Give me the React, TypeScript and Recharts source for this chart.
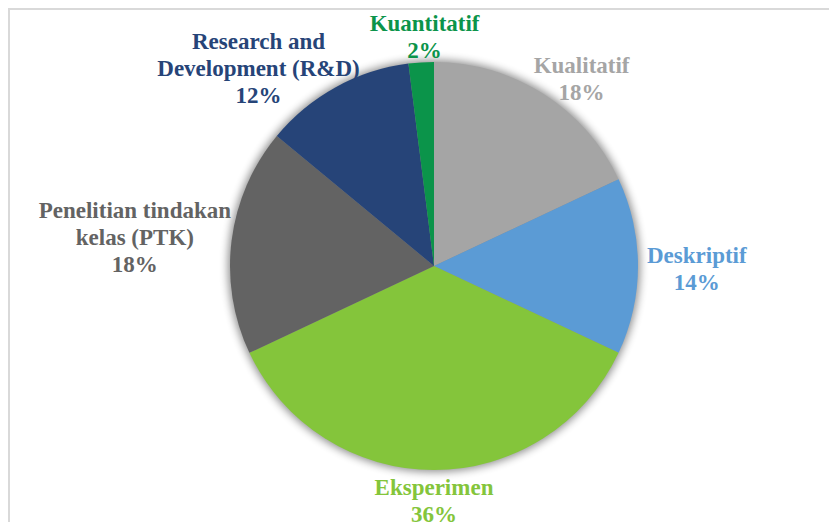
import React from 'react';
import { PieChart, Pie, Cell } from 'recharts';

const categories = [
    'Kualitatif',
    'Deskriptif',
    'Eksperimen',
    'Penelitian tindakan\nkelas (PTK)',
    'Research and\nDevelopment (R&D)',
    'Kuantitatif',
];
const shares = [18, 14, 36, 18, 12, 2];
const colors = ['#A5A5A5', '#5B9BD5', '#84C53B', '#636363', '#264478', '#0B944A'];

const data = categories.map((name, i) => ({ name, value: shares[i] }));

const FONT_FAMILY = '"Liberation Serif", "Times New Roman", serif';
const FONT_SIZE = 23;
const LINE_H = 27;
const RAD = Math.PI / 180;
// small hand corrections so the labels land where the original best-fit put them
const labelNudge: [number, number][] = [
    [15, 21],
    [14, 2],
    [0, 8],
    [-2, 9],
    [-39, 50],
    [5, -1],
];

let ctx: CanvasRenderingContext2D | null = null;
const measure = (t: string) => {
    if (!ctx) ctx = document.createElement('canvas').getContext('2d');
    if (!ctx) return t.length * 11;
    ctx.font = `bold ${FONT_SIZE}px ${FONT_FAMILY}`;
    return ctx.measureText(t).width;
};

const renderLabel = (props: any) => {
    const { cx, cy, midAngle, outerRadius, index, value } = props;
    const lines = [...categories[index].split('\n'), `${value}%`];
    const w = Math.max(...lines.map(measure));
    const h = lines.length * LINE_H;
    const dx = Math.cos(-midAngle * RAD);
    const dy = Math.sin(-midAngle * RAD);
    // push the text block out until its edge sits just off the rim
    const ext = (Math.abs(dx) * w) / 2 + (Math.abs(dy) * h) / 2;
    const d = outerRadius - 5 + ext;
    const [nx, ny] = labelNudge[index] || [0, 0];
    const x = cx + dx * d + nx;
    const y0 = cy + dy * d - h / 2 + LINE_H / 2 + ny;
    return (
        <text
            x={x}
            y={y0}
            fill={colors[index]}
            textAnchor="middle"
            dominantBaseline="central"
            fontFamily={FONT_FAMILY}
            fontSize={FONT_SIZE}
            fontWeight="bold"
        >
            {lines.map((l, k) => (
                <tspan key={k} x={x} dy={k === 0 ? 0 : LINE_H}>
                    {l}
                </tspan>
            ))}
        </text>
    );
};

const App: React.FC = () => {
    return (
        <div style={{ position: 'absolute', left: 0, top: 0, width: 829, height: 522, overflow: 'hidden', background: '#fff' }}>
            <div
                style={{
                    position: 'absolute',
                    left: 8,
                    top: 8,
                    width: 860,
                    height: 560,
                    border: '2px solid #D9D9D9',
                }}
            />
            <div style={{ position: 'absolute', left: 0, top: 0 }}>
                <PieChart width={829} height={522} margin={{ top: 0, right: 0, bottom: 0, left: 0 }}>
                    <defs>
                        <filter id="pieShadow" x="-20%" y="-20%" width="140%" height="140%">
                            <feGaussianBlur in="SourceAlpha" stdDeviation="4" />
                            <feComponentTransfer>
                                <feFuncA type="linear" slope="0.45" />
                            </feComponentTransfer>
                        </filter>
                    </defs>
                    <Pie
                        data={[{ value: 1 }]}
                        dataKey="value"
                        cx={434}
                        cy={266}
                        outerRadius={206}
                        fill="#000"
                        stroke="none"
                        filter="url(#pieShadow)"
                        isAnimationActive={false}
                    />
                    <Pie
                        data={data}
                        dataKey="value"
                        nameKey="name"
                        cx={434}
                        cy={266}
                        outerRadius={204}
                        startAngle={90}
                        endAngle={-270}
                        stroke="none"
                        label={renderLabel}
                        labelLine={false}
                        isAnimationActive={false}
                    >
                        {data.map((d, i) => (
                            <Cell key={d.name} fill={colors[i]} />
                        ))}
                    </Pie>
                </PieChart>
            </div>
        </div>
    );
};

export default App;
